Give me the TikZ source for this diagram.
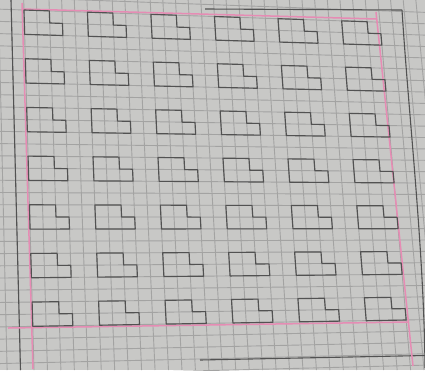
\documentclass[tikz,border=0pt]{standalone}
\definecolor{paper}{RGB}{200,200,198}
\definecolor{gridc}{RGB}{163,163,162}
\definecolor{pencil}{RGB}{82,82,82}
\definecolor{pinkc}{RGB}{230,140,180}
\tikzset{
  gridline/.style={gridc, line width=0.9pt},
  pinkline/.style={pinkc, line width=1.5pt},
  marginline/.style={pencil, line width=1.1pt},
  piece/.style={pencil, line width=1.15pt, line join=round},
}
\newcommand\gridpt[3]{%
  \pgfmathsetmacro\gya{9.2+12.2*(#3)}%
  \pgfmathsetmacro\gxa{23.7+12.65*(#2)+(10.3+0.8*(#2))*\gya/370}%
  \pgfmathsetmacro\gyb{9.18+0.03424*\gxa+(12.22-0.001976*\gxa)*(#3)}%
  \pgfmathsetmacro\gxb{23.7+12.65*(#2)+(10.3+0.8*(#2))*\gyb/370}%
  \coordinate (#1) at (\gxb,\gyb);}
\begin{document}
\begin{tikzpicture}[x=1pt,y=-1pt]
\useasboundingbox (0,0) rectangle (425,370);
\fill[paper] (0,0) rectangle (425,370);
\begin{scope}
  \clip (0,0) rectangle (425,370);
  \foreach \m in {-2,...,31}{
    \draw[gridline] ({23.7+12.65*\m},0) -- ({34+13.45*\m},370);
  }
  \foreach \v in {-1,...,30}{
    \draw[gridline] (0,{9.18+12.22*\v}) -- (425,{23.74+11.38*\v});
  }
  % pencil margin lines of the sheet
  \draw[marginline] (11,0) -- (20.5,370);
  \draw[marginline] (205,9) -- (402,10);
  \draw[marginline] (402,10) .. controls (409,120) and (424,250) .. (425,368);
  \draw[marginline] (200,360) -- (425,355.5);
  % pink square
  \draw[pinkline] (22,3) -- (33,369);
  \draw[pinkline] (22,9) -- (377,19);
  \draw[pinkline] (376,12) -- (413,366);
  \draw[pinkline] (8,328) -- (409,322);
\end{scope}
% L-shaped pieces
\foreach \c in {0,...,5}{
  \foreach \r in {0,...,6}{
    \pgfmathsetmacro\mo{5*\c}
    \pgfmathsetmacro\vo{4*\r}
    \gridpt{pa}{\mo}{\vo}
    \gridpt{pb}{\mo+2}{\vo}
    \gridpt{pc}{\mo+2}{\vo+1}
    \gridpt{pd}{\mo+3}{\vo+1}
    \gridpt{pe}{\mo+3}{\vo+2}
    \gridpt{pf}{\mo}{\vo+2}
    \draw[piece] (pa) -- (pb) -- (pc) -- (pd) -- (pe) -- (pf) -- cycle;
  }
}
\end{tikzpicture}
\end{document}
